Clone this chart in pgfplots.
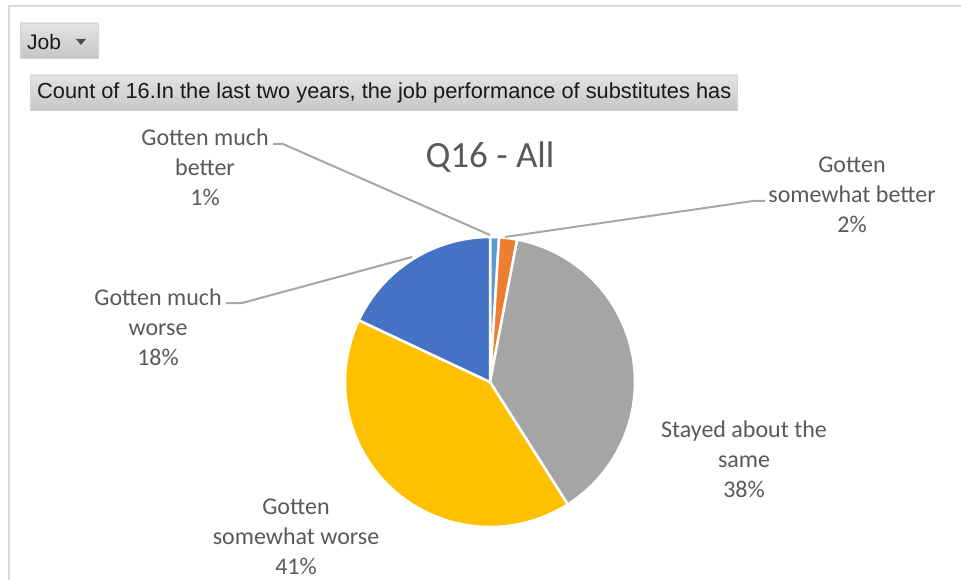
\documentclass[border=0pt]{standalone}
\usepackage{fontspec}
\setmainfont{Carlito}
\newfontfamily\btnfont{Liberation Sans}
\usepackage{pgfplots}
\pgfplotsset{compat=1.18}
\definecolor{cA}{HTML}{5B9BD5}
\definecolor{cB}{HTML}{ED7D31}
\definecolor{cC}{HTML}{A5A5A5}
\definecolor{cD}{HTML}{FFC000}
\definecolor{cE}{HTML}{4472C4}
\definecolor{txt}{HTML}{595959}
\definecolor{lead}{HTML}{A6A6A6}
\definecolor{framec}{HTML}{D9D9D9}
\definecolor{btnTop}{HTML}{E4E4E4}
\definecolor{btnBot}{HTML}{C6C6C6}
\definecolor{btnEdge}{HTML}{D4D4D4}
\newcommand\lbl{\fontsize{24}{30}\selectfont}
\begin{document}
\begin{tikzpicture}
% slice values (percent)
\def\vA{1}\def\vB{2}\def\vC{38}\def\vD{41}\def\vE{18}
\pgfmathsetmacro\aA{-90}
\pgfmathsetmacro\aB{\aA+3.6*\vA}
\pgfmathsetmacro\aC{\aB+3.6*\vB}
\pgfmathsetmacro\aD{\aC+3.6*\vC}
\pgfmathsetmacro\aE{\aD+3.6*\vD}
\pgfmathsetmacro\aF{\aE+3.6*\vE}
\begin{axis}[at={(0,0)},anchor=south west,scale only axis,
  width=961pt,height=580pt,xmin=0,xmax=961,ymin=0,ymax=580,
  y dir=reverse,hide axis,clip=false]
% frame
\draw[framec,line width=2pt] (axis cs:9,580) -- (axis cs:9,6) -- (axis cs:961,6);
% buttons
\shade[top color=btnTop,bottom color=btnBot,draw=btnEdge] (axis cs:20,23) rectangle (axis cs:98,58);
\node[anchor=west,inner sep=0pt,text=black!90,font=\btnfont\fontsize{21}{24}\selectfont] at (axis cs:27,42) {Job};
\fill[black!70] (axis cs:76,39) -- (axis cs:86,39) -- (axis cs:81,45) -- cycle;
\shade[top color=btnTop,bottom color=btnBot,draw=btnEdge] (axis cs:30,75) rectangle (axis cs:737,110);
\node[anchor=west,inner sep=0pt,text=black!90] at (axis cs:37,93) {\resizebox{694pt}{!}{\btnfont\fontsize{19}{22}\selectfont Count of 16.In the last two years, the job performance of substitutes has}};
% title
\node[text=txt,font=\fontsize{37}{44}\selectfont] at (axis cs:490,157) {Q16 - All};
% wedges
\addplot[fill=cA,draw=white,line width=2.5pt,domain=\aA:\aB,samples=8,variable=\t] ({490+145*cos(t)},{382+145*sin(t)}) -- (axis cs:490,382) -- cycle;
\addplot[fill=cB,draw=white,line width=2.5pt,domain=\aB:\aC,samples=8,variable=\t] ({490+145*cos(t)},{382+145*sin(t)}) -- (axis cs:490,382) -- cycle;
\addplot[fill=cC,draw=white,line width=2.5pt,domain=\aC:\aD,samples=80,variable=\t] ({490+145*cos(t)},{382+145*sin(t)}) -- (axis cs:490,382) -- cycle;
\addplot[fill=cD,draw=white,line width=2.5pt,domain=\aD:\aE,samples=80,variable=\t] ({490+145*cos(t)},{382+145*sin(t)}) -- (axis cs:490,382) -- cycle;
\addplot[fill=cE,draw=white,line width=2.5pt,domain=\aE:\aF,samples=50,variable=\t] ({490+145*cos(t)},{382+145*sin(t)}) -- (axis cs:490,382) -- cycle;
% leader lines
\draw[lead,line width=2pt] (axis cs:273,144) -- (axis cs:283,144) -- (axis cs:490,235);
\draw[lead,line width=2pt] (axis cs:505,237) -- (axis cs:753,201) -- (axis cs:765,201);
\draw[lead,line width=2pt] (axis cs:226,303) -- (axis cs:242,303) -- (axis cs:412,257);
% labels
\node[align=center,text=txt,font=\lbl] at (axis cs:205,167) {Gotten much\\better\\1\%};
\node[align=center,text=txt,font=\lbl] at (axis cs:852,195) {Gotten\\somewhat better\\2\%};
\node[align=center,text=txt,font=\lbl] at (axis cs:744,459) {Stayed about the\\same\\38\%};
\node[align=center,text=txt,font=\lbl] at (axis cs:296,537) {Gotten\\somewhat worse\\41\%};
\node[align=center,text=txt,font=\lbl] at (axis cs:158,327) {Gotten much\\worse\\18\%};
\end{axis}
\pgfresetboundingbox
\useasboundingbox (current axis.south west) rectangle (current axis.north east);
\end{tikzpicture}
\end{document}
